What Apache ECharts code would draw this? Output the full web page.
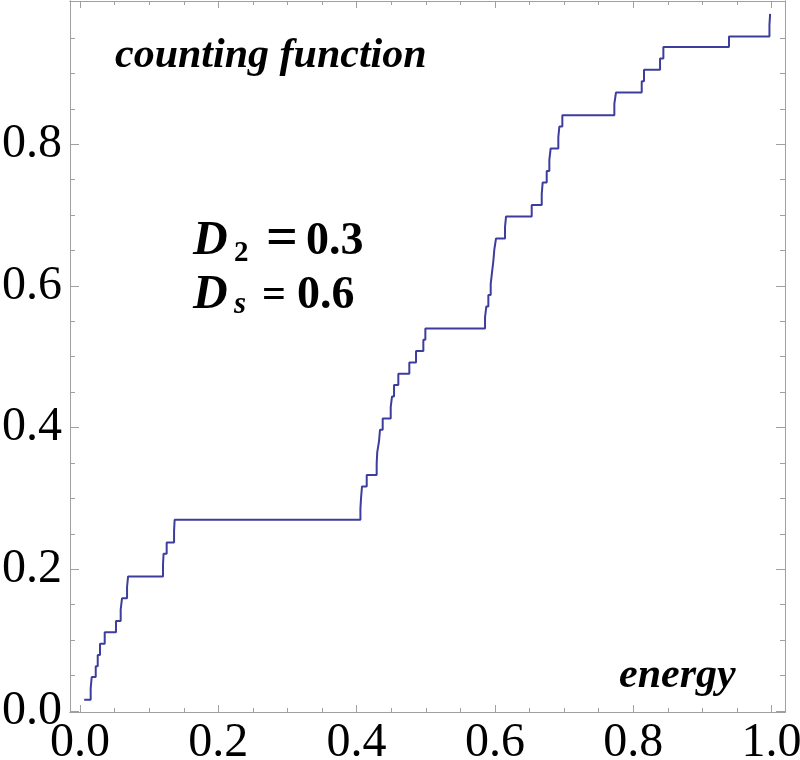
<!DOCTYPE html>
<html>
<head>
<meta charset="utf-8">
<script src="https://cdn.jsdelivr.net/npm/echarts@6/dist/echarts.min.js"></script>
<style>
html,body{margin:0;padding:0;background:#fff;}
#c{width:800px;height:760px;}
</style>
</head>
<body>
<div id="c"></div>
<script>
// energies where the counting function jumps, and the level reached at each jump
const energies = [0.006, 0.0154, 0.0169, 0.0227, 0.0256, 0.0289, 0.0357, 0.052, 0.0588, 0.0607,
  0.068, 0.0695, 0.120, 0.1208, 0.1253, 0.136, 0.1368, 0.4055, 0.4065, 0.4078,
  0.4146, 0.429, 0.4298, 0.4324, 0.4338, 0.4377, 0.4493, 0.4512, 0.4541, 0.4603,
  0.4762, 0.4859, 0.4965, 0.4994, 0.5857, 0.5876, 0.5905, 0.5939, 0.5958, 0.5977,
  0.5991, 0.6016, 0.6146, 0.6161, 0.6532, 0.6677, 0.6691, 0.6749, 0.6787, 0.6806,
  0.6917, 0.6932, 0.6975, 0.7727, 0.7751, 0.8123, 0.8156, 0.8388, 0.8436, 0.9385,
  0.997, 0.998];
const counts = [0.016, 0.032, 0.048, 0.063, 0.079, 0.095, 0.111, 0.127, 0.143, 0.159,
  0.175, 0.190, 0.206, 0.222, 0.238, 0.254, 0.270, 0.286, 0.302, 0.317,
  0.333, 0.349, 0.365, 0.381, 0.397, 0.413, 0.429, 0.444, 0.460, 0.476,
  0.492, 0.508, 0.524, 0.540, 0.556, 0.571, 0.587, 0.603, 0.619, 0.635,
  0.651, 0.667, 0.683, 0.698, 0.714, 0.730, 0.746, 0.762, 0.778, 0.794,
  0.810, 0.825, 0.841, 0.857, 0.873, 0.889, 0.905, 0.921, 0.937, 0.952,
  0.968, 0.984];
const xMajorTicks = [0.0, 0.2, 0.4, 0.6, 0.8, 1.0];
const xMinorTicks = [0.05, 0.1, 0.15, 0.25, 0.3, 0.35, 0.45, 0.5, 0.55, 0.65, 0.7, 0.75, 0.85, 0.9, 0.95];
const yMajorTicks = [0.0, 0.2, 0.4, 0.6, 0.8];
const yMinorTicks = [0.05, 0.1, 0.15, 0.25, 0.3, 0.35, 0.45, 0.5, 0.55, 0.65, 0.7, 0.75, 0.85, 0.9, 0.95];
const xRange = [-0.0145, 1.0195];
const yRange = [-0.0014, 1.0021];

const frameColor = '#a0a0a0';
const lineColor = '#3d3d9e';
const labelFont = 'Liberation Serif';

const seriesData = energies.map((e, i) => [e, counts[i]]);

function xAxisDef(pos, ticks, len, showLabel) {
  return {
    type: 'value', position: pos, min: xRange[0], max: xRange[1],
    axisLine: {show: true, onZero: false, lineStyle: {color: frameColor, width: 1}},
    axisTick: {show: true, inside: true, length: len, customValues: ticks, lineStyle: {color: frameColor, width: 1}},
    axisLabel: {show: showLabel, customValues: ticks, margin: 7, color: '#000',
      fontFamily: labelFont, fontSize: 48, formatter: v => v.toFixed(1)},
    splitLine: {show: false}
  };
}
function yAxisDef(pos, ticks, len, showLabel) {
  return {
    type: 'value', position: pos, min: yRange[0], max: yRange[1],
    axisLine: {show: true, onZero: false, lineStyle: {color: frameColor, width: 1}},
    axisTick: {show: true, inside: true, length: len, customValues: ticks, lineStyle: {color: frameColor, width: 1}},
    axisLabel: {show: showLabel, customValues: ticks, margin: 8, color: '#000',
      fontFamily: labelFont, fontSize: 48, padding: [8, 0, 0, 0], formatter: v => v.toFixed(1)},
    splitLine: {show: false}
  };
}

const chart = echarts.init(document.getElementById('c'), null, {renderer: 'canvas'});
chart.setOption({
  animation: false,
  backgroundColor: '#fff',
  grid: {left: 70, right: 15, top: 1, bottom: 48, containLabel: false, outerBoundsMode: 'none'},
  xAxis: [
    xAxisDef('bottom', xMajorTicks, 7, true),
    xAxisDef('bottom', xMinorTicks, 4, false),
    xAxisDef('top', xMajorTicks, 7, false),
    xAxisDef('top', xMinorTicks, 4, false)
  ],
  yAxis: [
    yAxisDef('left', yMajorTicks, 9, true),
    yAxisDef('left', yMinorTicks, 5, false),
    yAxisDef('right', yMajorTicks, 9, false),
    yAxisDef('right', yMinorTicks, 5, false)
  ],
  series: [{
    type: 'line', xAxisIndex: 0, yAxisIndex: 0, step: 'end',
    data: seriesData, showSymbol: false, symbol: 'none',
    lineStyle: {color: lineColor, width: 2}
  }],
  graphic: [
    {type: 'text', x: 115, y: 56, style: {text: 'counting function', font: 'italic bold 42px "Liberation Serif"', fill: '#000', align: 'left', verticalAlign: 'middle'}},
    {type: 'text', x: 619, y: 676, style: {text: 'energy', font: 'italic bold 42px "Liberation Serif"', fill: '#000', align: 'left', verticalAlign: 'middle'}},
    {type: 'text', x: 193, y: 242, style: {text: 'D', font: 'italic bold 48px "Liberation Serif"', fill: '#000', align: 'left', verticalAlign: 'middle'}},
    {type: 'text', x: 234, y: 254, style: {text: '2', font: 'bold 29px "Liberation Serif"', fill: '#000', align: 'left', verticalAlign: 'middle'}},
    {type: 'text', x: 266, y: 241, style: {text: '=', font: 'bold 56px "Liberation Serif"', fill: '#000', align: 'left', verticalAlign: 'middle'}},
    {type: 'text', x: 306, y: 242, style: {text: '0.3', font: 'bold 46px "Liberation Serif"', fill: '#000', align: 'left', verticalAlign: 'middle'}},
    {type: 'text', x: 193, y: 296, style: {text: 'D', font: 'italic bold 48px "Liberation Serif"', fill: '#000', align: 'left', verticalAlign: 'middle'}},
    {type: 'text', x: 234, y: 305, style: {text: 's', font: 'italic bold 31px "Liberation Serif"', fill: '#000', align: 'left', verticalAlign: 'middle'}},
    {type: 'text', x: 262, y: 296, style: {text: '=', font: 'bold 42px "Liberation Serif"', fill: '#000', align: 'left', verticalAlign: 'middle'}},
    {type: 'text', x: 297, y: 296, style: {text: '0.6', font: 'bold 46px "Liberation Serif"', fill: '#000', align: 'left', verticalAlign: 'middle'}}
  ]
});
</script>
</body>
</html>
